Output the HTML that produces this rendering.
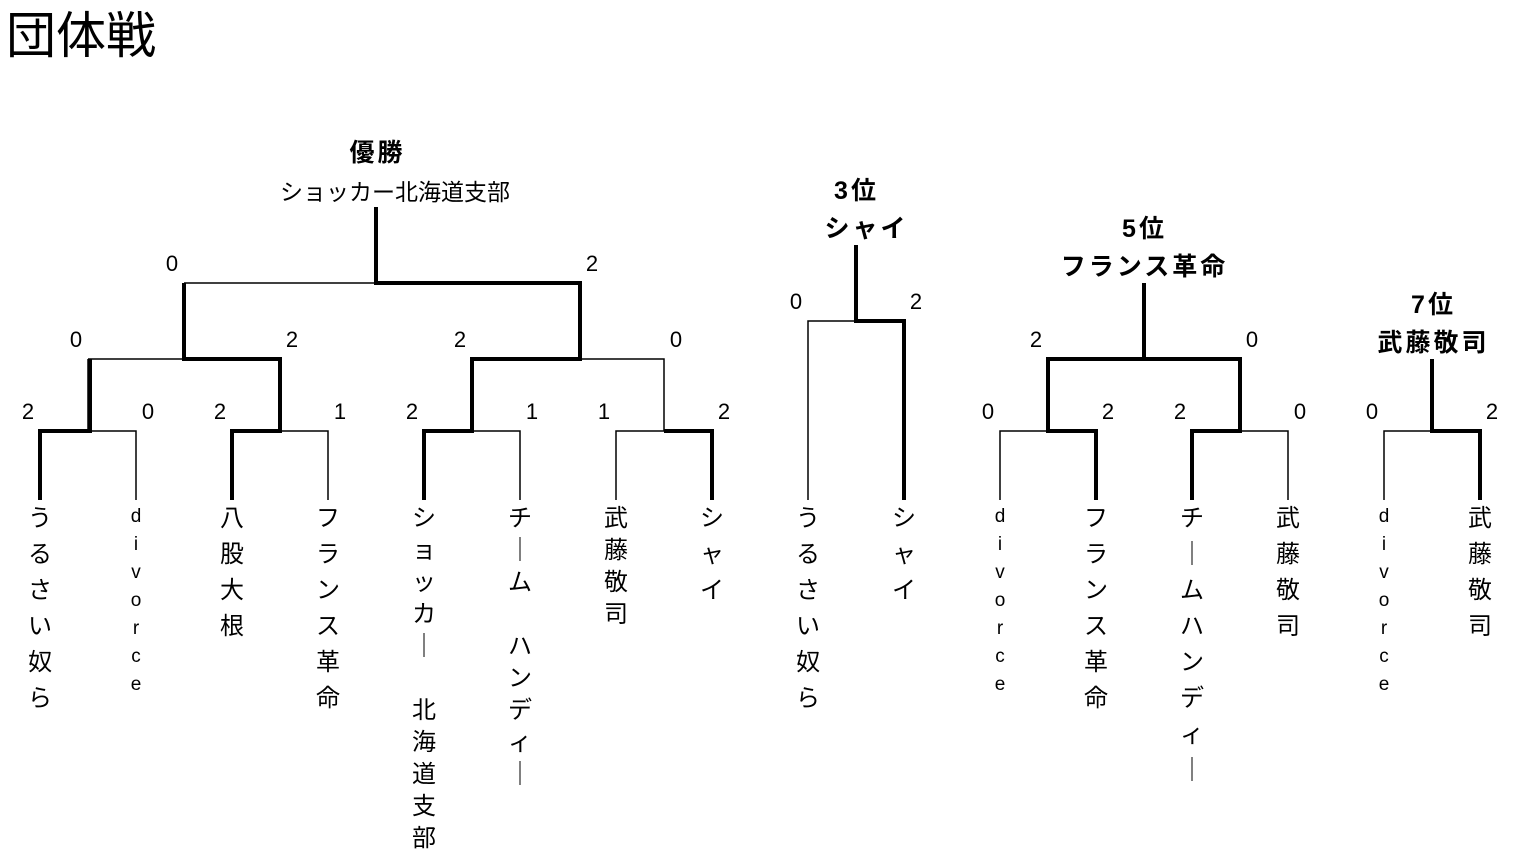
<!DOCTYPE html>
<html><head><meta charset="utf-8"><style>
body{margin:0;width:1529px;height:860px;background:#fff;position:relative;overflow:hidden;font-family:"Liberation Sans","Noto Sans CJK JP",sans-serif;color:#000}
.t{position:absolute;white-space:nowrap;transform:translateX(-50%)}
.b{font-weight:bold;font-size:25px;letter-spacing:3px;padding-left:3px}
.v{position:absolute;width:40px;margin-left:-20px;text-align:center;font-size:24px;top:501px}
</style></head><body>
<div style="position:absolute;left:6px;top:-4px;font-size:50px;">団体戦</div>
<svg width="1529" height="860" style="position:absolute;left:0;top:0" fill="none" stroke="#000">
<g stroke-width="1.5">
<path d="M88 431H136V500"/><path d="M280 431H328V500"/><path d="M472 431H520V500"/><path d="M616 500V431H664"/>
<path d="M88 359V431M88 359H184"/><path d="M580 359H664V431"/>
<path d="M184 283H376"/>
<path d="M808 500V321H856"/>
<path d="M1000 500V431H1048"/><path d="M1240 431H1288V500"/>
<path d="M1384 500V431H1432"/>
</g>
<g stroke-width="4">
<path d="M40 500V431H90V359"/><path d="M232 500V431H280V359H184V283"/>
<path d="M424 500V431H472V359H580V283H376V207"/><path d="M712 500V431H664"/>
<path d="M904 500V321H856V245"/>
<path d="M1096 500V431H1048V359H1240V431H1192V500M1144 359V283"/>
<path d="M1480 500V431H1432V359"/>
</g>
</svg>
<div class="t b" style="left:376px;top:133px">優勝</div>
<div class="t" style="left:395px;top:173px;font-size:23px">ショッカー北海道支部</div>
<div class="t b" style="left:855px;top:171px">3位</div>
<div class="t b" style="left:865px;top:209px">シャイ</div>
<div class="t b" style="left:1143px;top:209px">5位</div>
<div class="t b" style="left:1143px;top:247px">フランス革命</div>
<div class="t b" style="left:1432px;top:285px">7位</div>
<div class="t b" style="left:1432px;top:323px">武藤敬司</div>
<div style="position:absolute;font-size:22px;left:0;top:0">
<div class="t" style="left:172px;top:251px">0</div><div class="t" style="left:592px;top:251px">2</div>
<div class="t" style="left:76px;top:327px">0</div><div class="t" style="left:292px;top:327px">2</div><div class="t" style="left:460px;top:327px">2</div><div class="t" style="left:676px;top:327px">0</div>
<div class="t" style="left:28px;top:399px">2</div><div class="t" style="left:148px;top:399px">0</div><div class="t" style="left:220px;top:399px">2</div><div class="t" style="left:340px;top:399px">1</div>
<div class="t" style="left:412px;top:399px">2</div><div class="t" style="left:532px;top:399px">1</div><div class="t" style="left:604px;top:399px">1</div><div class="t" style="left:724px;top:399px">2</div>
<div class="t" style="left:796px;top:289px">0</div><div class="t" style="left:916px;top:289px">2</div>
<div class="t" style="left:1036px;top:327px">2</div><div class="t" style="left:1252px;top:327px">0</div>
<div class="t" style="left:988px;top:399px">0</div><div class="t" style="left:1108px;top:399px">2</div><div class="t" style="left:1180px;top:399px">2</div><div class="t" style="left:1300px;top:399px">0</div>
<div class="t" style="left:1372px;top:399px">0</div><div class="t" style="left:1492px;top:399px">2</div>
</div>
<div class="v" style="left:40px;line-height:36px">う<br>る<br>さ<br>い<br>奴<br>ら</div>
<div class="v" style="left:136px;line-height:28px;font-size:19px;top:503px">d<br>i<br>v<br>o<br>r<br>c<br>e</div>
<div class="v" style="left:232px;line-height:36px">八<br>股<br>大<br>根</div>
<div class="v" style="left:328px;line-height:36px">フ<br>ラ<br>ン<br>ス<br>革<br>命</div>
<div class="v" style="left:424px;line-height:32px;top:503px">シ<br>ョ<br>ッ<br>カ<br>｜<br>&nbsp;<br>北<br>海<br>道<br>支<br>部</div>
<div class="v" style="left:520px;line-height:32px;top:503px">チ<br>｜<br>ム<br>&nbsp;<br>ハ<br>ン<br>デ<br>ィ<br>｜</div>
<div class="v" style="left:616px;line-height:32px;top:503px">武<br>藤<br>敬<br>司</div>
<div class="v" style="left:712px;line-height:36px">シ<br>ャ<br>イ</div>
<div class="v" style="left:808px;line-height:36px">う<br>る<br>さ<br>い<br>奴<br>ら</div>
<div class="v" style="left:904px;line-height:36px">シ<br>ャ<br>イ</div>
<div class="v" style="left:1000px;line-height:28px;font-size:19px;top:503px">d<br>i<br>v<br>o<br>r<br>c<br>e</div>
<div class="v" style="left:1096px;line-height:36px">フ<br>ラ<br>ン<br>ス<br>革<br>命</div>
<div class="v" style="left:1192px;line-height:36px">チ<br>｜<br>ム<br>ハ<br>ン<br>デ<br>ィ<br>｜</div>
<div class="v" style="left:1288px;line-height:36px">武<br>藤<br>敬<br>司</div>
<div class="v" style="left:1384px;line-height:28px;font-size:19px;top:503px">d<br>i<br>v<br>o<br>r<br>c<br>e</div>
<div class="v" style="left:1480px;line-height:36px">武<br>藤<br>敬<br>司</div>
</body></html>
